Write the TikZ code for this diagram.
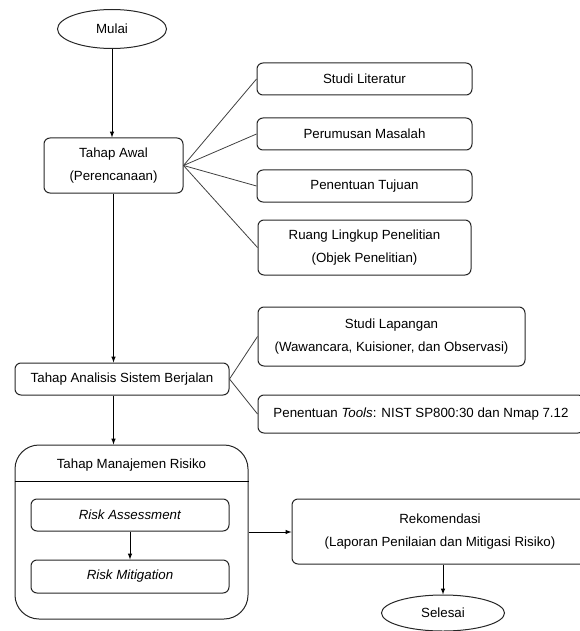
\documentclass[tikz,border=0pt]{standalone}
\usepackage{fontspec}
\setmainfont{Liberation Sans}
\usetikzlibrary{shapes.geometric, arrows}
\tikzstyle{terminal} = [ellipse, draw=black!85, line width=1pt, inner sep=0pt]
\tikzstyle{process} = [rectangle, rounded corners=6pt, draw=black!85, line width=1pt, text centered, align=center, inner sep=0pt]
\tikzstyle{group} = [rectangle, rounded corners=24pt, draw=black!85, line width=1pt, inner sep=0pt]
\tikzstyle{arrow} = [line width=1pt, ->, >=latex]
\tikzstyle{branch} = [line width=0.8pt, draw=black!75]

\begin{document}
\begin{tikzpicture}[x=1pt, y=-1pt, font=\fontsize{13.3}{23.5}\selectfont]
\useasboundingbox (0,0) rectangle (579,631);

\node (mulai) [terminal, minimum width=109pt, minimum height=39pt] at (112,29) {Mulai};
\node (awal) [process, minimum width=139pt, minimum height=55pt] at (113.5,165.5) {Tahap Awal\\(Perencanaan)};

\node (literatur) [process, minimum width=215pt, minimum height=32pt] at (364.5,79) {Studi Literatur};
\node (masalah) [process, minimum width=215pt, minimum height=32pt] at (364.5,134) {Perumusan Masalah};
\node (tujuan) [process, minimum width=215pt, minimum height=32pt] at (364.5,186) {Penentuan Tujuan};
\node (lingkup) [process, minimum width=213pt, minimum height=55pt] at (364.5,247.5) {Ruang Lingkup Penelitian\\(Objek Penelitian)};

\node (analisis) [process, minimum width=214pt, minimum height=32pt] at (122,379) {Tahap Analisis Sistem Berjalan};
\node (lapangan) [process, minimum width=267pt, minimum height=59pt] at (391.5,336.5) {Studi Lapangan\\(Wawancara, Kuisioner, dan Observasi)};
\node (tools) [process, minimum width=326pt, minimum height=38pt] at (421,414) {Penentuan \textit{Tools}: NIST SP800:30 dan Nmap 7.12};

\node (manajemen) [group, minimum width=233pt, minimum height=174pt] at (131.5,532) {};
\node (mjjudul) at (131.5,465) {Tahap Manajemen Risiko};
\coordinate (mjgaris) at (131.5,481);
\node (assess) [process, minimum width=198pt, minimum height=32pt] at (130,515) {\textit{Risk Assessment}};
\node (mitigasi) [process, minimum width=198pt, minimum height=33pt] at (130,576.5) {\textit{Risk Mitigation}};

\node (rekom) [process, minimum width=296pt, minimum height=65pt] at (440,531.5) {Rekomendasi\\(Laporan Penilaian dan Mitigasi Risiko)};
\node (selesai) [terminal, minimum width=123pt, minimum height=36pt] at (443,613) {Selesai};

\draw [arrow] (mulai.south) -- (mulai.south |- awal.north);
\draw [arrow] (awal.south) -- (awal.south |- analisis.north);
\draw [arrow] (awal.south |- analisis.south) -- (awal.south |- manajemen.north);
\draw [arrow] (assess.south) -- (mitigasi.north);
\draw [arrow] (manajemen.east) -- (manajemen.east -| rekom.west);
\draw [arrow] (rekom.south -| selesai.north) -- (selesai.north);

\draw (manajemen.west |- mjgaris) -- (manajemen.east |- mjgaris);

\draw [branch] (awal.east) -- (literatur.west);
\draw [branch] (awal.east) -- (masalah.west);
\draw [branch] (awal.east) -- (tujuan.west);
\draw [branch] (awal.east) -- (lingkup.west);
\draw [branch] (analisis.east) -- (lapangan.west);
\draw [branch] (analisis.east) -- (tools.west);

\end{tikzpicture}
\end{document}
